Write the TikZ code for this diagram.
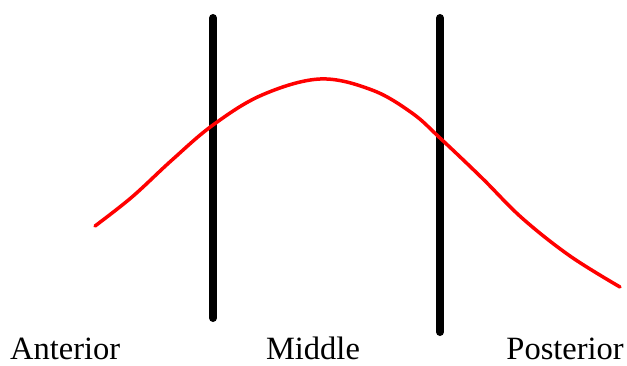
\documentclass[tikz,border=0pt]{standalone}
\usepackage{fontspec}
\setmainfont{Liberation Serif}
\begin{document}
\begin{tikzpicture}[x=1pt,y=-1pt,
  divider/.style={line width=8pt,line cap=round,black},
  curve/.style={line width=3.5pt,red,line cap=round,line join=round},
  lab/.style={font=\fontsize{32.5}{33}\selectfont,inner sep=0pt,text depth=0pt,anchor=base}]
\useasboundingbox (0,0) rectangle (627,365);
\coordinate (l1t) at (213,18);
\coordinate (l1b) at (213,318);
\coordinate (l2t) at (440,18);
\coordinate (l2b) at (440,332);
\draw[divider] (l1t) -- (l1b);
\draw[divider] (l2t) -- (l2b);
\draw[curve] plot[smooth,tension=0.6] coordinates {(95,226) (132,197) (172,160) (213,125) (262,95) (320,79) (372,90) (412,113) (440,138) (482,178) (522,218) (570,256) (620,287)};
\node[lab,anchor=base west] (ant) at (10,359) {Anterior};
\node[lab] (mid) at (313,359) {Middle};
\node[lab,anchor=base east] (post) at (624,359) {Posterior};
\end{tikzpicture}
\end{document}
